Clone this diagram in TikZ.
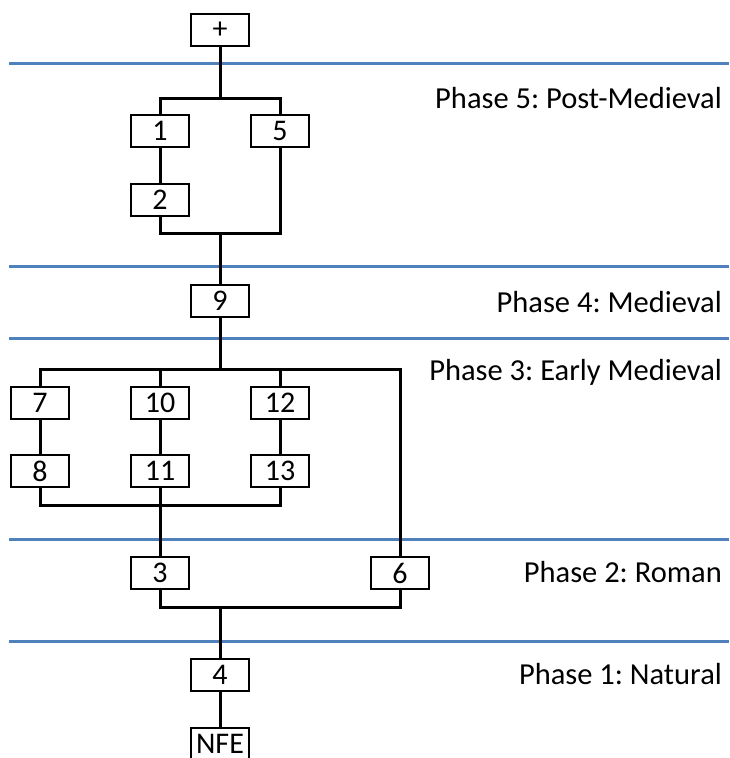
\documentclass[tikz,border=0pt]{standalone}
\usepackage{fontspec}
\setmainfont{Carlito}
\frenchspacing
\definecolor{phaseblue}{RGB}{79,129,189}
\tikzset{
  ctx/.style={draw, line width=2.5pt, minimum width=58pt, minimum height=32pt,
    inner sep=0pt, font=\fontsize{30}{34}\selectfont},
  link/.style={line width=3pt},
  phase/.style={anchor=base east, inner sep=0pt, font=\fontsize{30.5}{35}\selectfont},
  divider/.style={phaseblue, line width=3pt}
}
\begin{document}
\begin{tikzpicture}[x=1pt,y=-1pt]
    \useasboundingbox (0,0) rectangle (729,758);
    % phase dividers
    \foreach \y in {63,266,338,539,641}
        \draw[divider] (9,\y) -- (729,\y);
    \node[phase] (P5) at (722,108) {Phase 5: Post-Medieval};
    \node[phase] (P4) at (722,312) {Phase 4: Medieval};
    \node[phase] (P3) at (722,380) {Phase 3: Early Medieval};
    \node[phase] (P2) at (722,582) {Phase 2: Roman};
    \node[phase] (P1) at (722,684) {Phase 1: Natural};
    % contexts
    \node[ctx] (Top) at (220,30) {+};
    \node[ctx] (C1) at (160,131) {1};
    \node[ctx] (C5) at (280,131) {5};
    \node[ctx] (C2) at (160,200) {2};
    \node[ctx] (C9) at (220,301) {9};
    \node[ctx] (C7) at (40,403) {7};
    \node[ctx] (C10) at (160,403) {10};
    \node[ctx] (C12) at (280,403) {12};
    \node[ctx] (C8) at (40,471) {8};
    \node[ctx] (C11) at (160,471) {11};
    \node[ctx] (C13) at (280,471) {13};
    \node[ctx] (C3) at (160,573) {3};
    \node[ctx] (C6) at (400,573) {6};
    \node[ctx] (C4) at (220,675) {4};
    \node[ctx] (NFE) at (220,744) {NFE};
    \coordinate (S5) at (220,98);
    \coordinate (J5) at (220,233);
    \coordinate (S3) at (220,369);
    \coordinate (J3) at (160,505);
    \coordinate (J2) at (220,607);
    % sequence
    \draw[link] (Top) -- (S5);
    \draw[link] (C1) |- (S5) -| (C5);
    \draw[link] (C1) -- (C2);
    \draw[link] (C2) |- (J5) -| (C5);
    \draw[link] (J5) -- (C9);
    \draw[link] (C9) -- (S3);
    \draw[link] (C7) |- (S3) -| (C6);
    \draw[link] (C10) -- (C10 |- S3);
    \draw[link] (C12) -- (C12 |- S3);
    \draw[link] (C7) -- (C8);
    \draw[link] (C10) -- (C11);
    \draw[link] (C12) -- (C13);
    \draw[link] (C8) |- (J3) -| (C13);
    \draw[link] (C11) -- (C3);
    \draw[link] (C3) |- (J2) -| (C6);
    \draw[link] (J2) -- (C4);
    \draw[link] (C4) -- (NFE);
\end{tikzpicture}
\end{document}
